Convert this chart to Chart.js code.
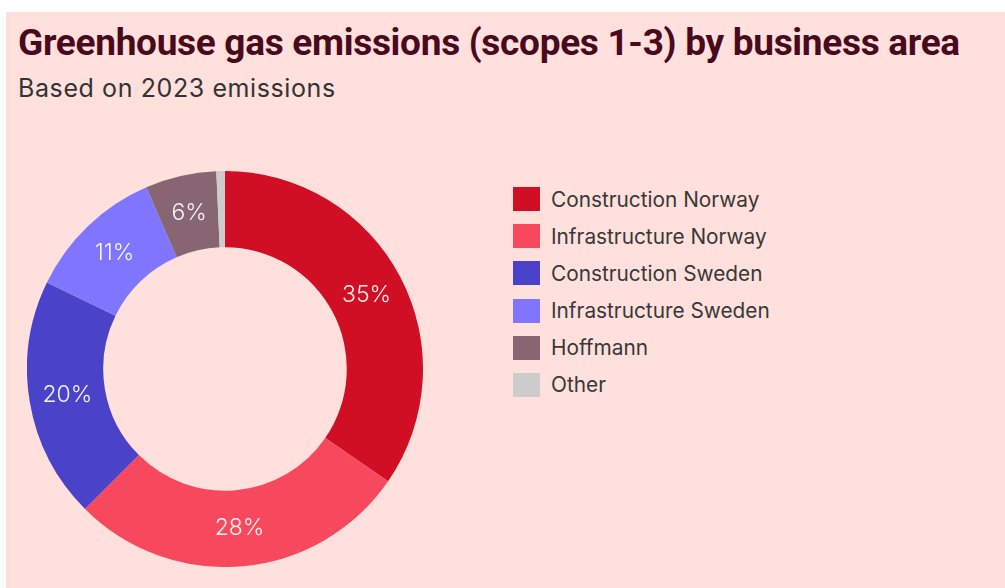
<!DOCTYPE html>
<html lang="en">
<head>
  <meta charset="UTF-8" />
  <title>Greenhouse gas emissions by business area</title>
  <script src="https://cdn.jsdelivr.net/npm/chart.js"></script>
  <style>
    body {
      margin: 0;
      background: #fff;
      font-family: 'Inter', sans-serif;
    }
    .card {
      position: absolute;
      left: 6px;
      top: 12px;
      right: 0;
      bottom: 0;
      background: #ffe0dc;
    }
    h1 {
      position: absolute;
      left: 12px;
      top: 9px;
      margin: 0;
      font-family: 'Roboto', sans-serif;
      font-weight: 700;
      font-size: 37px;
      letter-spacing: -0.3px;
      color: #4a0a1e;
      white-space: nowrap;
    }
    .subtitle {
      position: absolute;
      left: 12px;
      top: 61px;
      margin: 0;
      font-size: 25px;
      letter-spacing: 0.6px;
      color: #333;
    }
    .chart-box {
      position: absolute;
      left: 27px;
      top: 171px;
      width: 396px;
      height: 396px;
    }
    #legend {
      position: absolute;
      left: 513px;
      top: 187px;
      margin: 0;
      padding: 0;
      list-style: none;
    }
    #legend li {
      display: flex;
      align-items: center;
      height: 24px;
      margin-bottom: 13.2px;
      font-size: 20.8px;
      color: #383838;
    }
    #legend span {
      display: inline-block;
      width: 27px;
      height: 24px;
      margin-right: 11px;
    }
  </style>
</head>
<body>
  <div class="card">
    <h1>Greenhouse gas emissions (scopes 1-3) by business area</h1>
    <p class="subtitle">Based on 2023 emissions</p>
  </div>
  <div class="chart-box">
    <canvas id="emissionsChart"></canvas>
  </div>
  <ul id="legend"></ul>

<script>
  const areas = ['Construction Norway', 'Infrastructure Norway', 'Construction Sweden', 'Infrastructure Sweden', 'Hoffmann', 'Other'];
  const shares = [34.6, 27.9, 19.7, 11.3, 5.8, 0.7];
  const colors = ['#d00f25', '#f7485e', '#4a42c8', '#7f75ff', '#886572', '#cccccc'];

  // percentage text in the middle of each ring segment
  const sliceLabels = {
    id: 'sliceLabels',
    afterDatasetsDraw(chart) {
      const { ctx } = chart;
      const meta = chart.getDatasetMeta(0);
      const data = chart.data.datasets[0].data;
      const total = data.reduce((a, b) => a + b, 0);
      ctx.save();
      ctx.font = '300 23px Inter';
      ctx.fillStyle = 'rgba(255, 255, 255, 0.92)';
      ctx.textAlign = 'center';
      ctx.textBaseline = 'middle';
      meta.data.forEach((arc, i) => {
        const pct = data[i] / total * 100;
        if (pct < 2) return;
        const { x, y } = arc.tooltipPosition();
        ctx.fillText(Math.round(pct) + '%', x, y);
      });
      ctx.restore();
    }
  };

  new Chart(document.getElementById('emissionsChart'), {
    type: 'doughnut',
    data: {
      labels: areas,
      datasets: [{
        data: shares,
        backgroundColor: colors,
        borderWidth: 0
      }]
    },
    options: {
      responsive: true,
      maintainAspectRatio: false,
      animation: false,
      cutout: '61.5%',
      plugins: {
        legend: { display: false },
        tooltip: { enabled: false }
      }
    },
    plugins: [sliceLabels]
  });

  // legend built from the same arrays
  const legend = document.getElementById('legend');
  areas.forEach((name, i) => {
    const li = document.createElement('li');
    li.innerHTML = `<span style="background:${colors[i]}"></span>${name}`;
    legend.appendChild(li);
  });
</script>
</body>
</html>
